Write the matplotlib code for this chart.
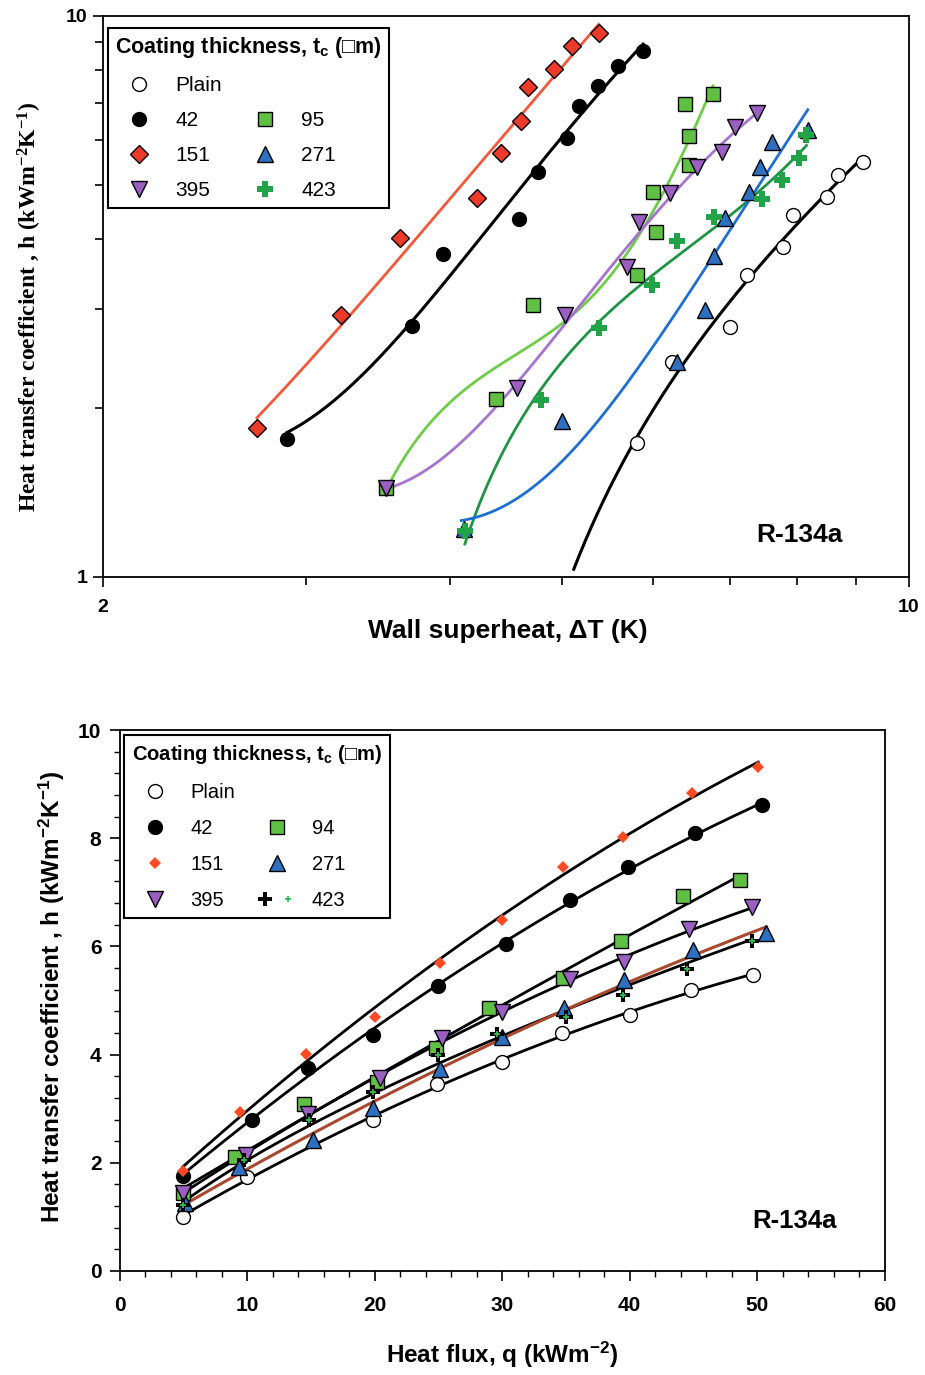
import numpy as np
import matplotlib
matplotlib.use('Agg')
import matplotlib.pyplot as plt
from matplotlib.lines import Line2D
from matplotlib.legend_handler import HandlerTuple
from matplotlib.ticker import FixedLocator, NullFormatter, MultipleLocator

plt.rcParams['font.family'] = ['Liberation Sans', 'DejaVu Sans']
plt.rcParams['mathtext.default'] = 'regular'

# ---------------- top panel: h vs wall superheat (log-log) ----------------
dt_plain = [5.81, 6.23, 7.00, 7.23, 7.78, 7.94, 8.49, 8.67, 9.12]
h_plain = [1.73, 2.42, 2.79, 3.46, 3.88, 4.42, 4.76, 5.21, 5.50]
dt_42 = [2.89, 3.71, 3.94, 4.59, 4.77, 5.05, 5.17, 5.37, 5.59, 5.88]
h_42 = [1.76, 2.80, 3.77, 4.35, 5.28, 6.06, 6.90, 7.49, 8.15, 8.66]
dt_151 = [2.72, 3.22, 3.62, 4.22, 4.43, 4.61, 4.67, 4.92, 5.10, 5.39]
h_151 = [1.84, 2.93, 4.02, 4.73, 5.70, 6.50, 7.47, 8.05, 8.85, 9.33]
dt_95 = [3.52, 4.38, 4.72, 5.81, 6.03, 6.00, 6.44, 6.45, 6.39, 6.76]
h_95 = [1.44, 2.08, 3.06, 3.46, 4.12, 4.86, 5.43, 6.11, 6.96, 7.26]
dt_271 = [4.11, 5.00, 6.29, 6.65, 6.78, 6.93, 7.26, 7.43, 7.60, 8.17]
h_271 = [1.22, 1.90, 2.42, 2.99, 3.74, 4.36, 4.86, 5.39, 5.97, 6.26]
dt_395 = [3.52, 4.57, 5.03, 5.69, 5.83, 6.20, 6.55, 6.89, 7.07, 7.38]
h_395 = [1.44, 2.17, 2.93, 3.57, 4.29, 4.83, 5.39, 5.73, 6.35, 6.71]
dt_423 = [4.12, 4.80, 5.38, 5.98, 6.29, 6.77, 7.45, 7.76, 8.02, 8.14]
h_423 = [1.21, 2.07, 2.78, 3.32, 3.97, 4.39, 4.71, 5.10, 5.58, 6.14]

# polynomial regression order and drawn x-range of each fitted curve
fit_order_top = {'plain': 2, '42': 3, '151': 2, '95': 3, '271': 2, '395': 3, '423': 3}
fit_range_top = {'plain': [5.12, 9.12], '42': [2.89, 5.88], '151': [2.72, 5.38],
                 '95': [3.52, 6.76], '271': [4.09, 8.17], '395': [3.52, 7.38],
                 '423': [4.12, 8.15]}

# ---------------- bottom panel: h vs heat flux ----------------
q_plain = [4.96, 9.98, 19.9, 24.9, 30.0, 34.7, 40.0, 44.8, 49.7]
hq_plain = [1.00, 1.74, 2.79, 3.46, 3.87, 4.40, 4.73, 5.19, 5.48]
q_42 = [4.96, 10.4, 14.8, 19.9, 25.0, 30.3, 35.3, 39.9, 45.1, 50.4]
hq_42 = [1.76, 2.80, 3.76, 4.36, 5.27, 6.04, 6.85, 7.46, 8.09, 8.61]
q_151 = [4.96, 9.45, 14.6, 20.0, 25.1, 30.0, 34.8, 39.5, 44.9, 50.1]
hq_151 = [1.85, 2.94, 4.02, 4.70, 5.69, 6.48, 7.46, 8.03, 8.84, 9.32]
q_94 = [4.96, 9.06, 14.5, 20.2, 24.8, 29.0, 34.8, 39.3, 44.2, 48.7]
hq_94 = [1.44, 2.10, 3.08, 3.50, 4.12, 4.87, 5.41, 6.10, 6.93, 7.23]
q_271 = [5.1, 9.4, 15.2, 19.9, 25.1, 30.0, 34.9, 39.6, 45.0, 50.7]
hq_271 = [1.25, 1.92, 2.42, 3.01, 3.73, 4.33, 4.86, 5.37, 5.93, 6.24]
q_395 = [4.96, 9.9, 14.8, 20.4, 25.3, 30.0, 35.3, 39.6, 44.7, 49.6]
hq_395 = [1.45, 2.14, 2.91, 3.56, 4.31, 4.79, 5.39, 5.72, 6.32, 6.72]
q_423 = [5.0, 9.8, 14.9, 19.9, 25.0, 29.6, 35.0, 39.5, 44.5, 49.6]
hq_423 = [1.22, 2.05, 2.79, 3.31, 3.99, 4.38, 4.70, 5.11, 5.58, 6.10]


def poly_curve(x, y, order, xr=None):
    x = np.asarray(x, float)
    p = np.polyfit(x, np.asarray(y, float), order)
    lo, hi = xr if xr is not None else (x.min(), x.max())
    xx = np.linspace(lo, hi, 200)
    return xx, np.polyval(p, xx)


def power_curve(x, y):
    x = np.asarray(x, float)
    n, c = np.polyfit(np.log(x), np.log(np.asarray(y, float)), 1)
    xx = np.linspace(x.min(), x.max(), 200)
    return xx, np.exp(c) * xx ** n


fig = plt.figure(figsize=(9.25, 13.75), dpi=100)
ax1 = fig.add_axes([103/925, 1-577/1375, 806/925, 561/1375])
ax2 = fig.add_axes([119.5/925, 1-1271/1375, 765/925, 541/1375])

mk = dict(linestyle='none', markeredgecolor='black', markeredgewidth=1.0, zorder=4)

# top panel fitted curves
top_series = [('151', dt_151, h_151, '#f2583a'), ('42', dt_42, h_42, 'black'),
              ('95', dt_95, h_95, '#6fcc4a'), ('395', dt_395, h_395, '#a673cf'),
              ('423', dt_423, h_423, '#1e9444'), ('271', dt_271, h_271, '#1f6fd0'),
              ('plain', dt_plain, h_plain, 'black')]
for key, x, y, c in top_series:
    ax1.plot(*poly_curve(x, y, fit_order_top[key], fit_range_top[key]), color=c,
             lw=2.2 if c == 'black' else 2.0, zorder=2)

ax1.plot(dt_plain, h_plain, marker='o', ms=10, markerfacecolor='white', **mk)
ax1.plot(dt_42, h_42, marker='o', ms=10, markerfacecolor='black', **mk)
ax1.plot(dt_151, h_151, marker='D', ms=9.5, markerfacecolor='#ec3a2b', **mk)
ax1.plot(dt_95, h_95, marker='s', ms=9.5, markerfacecolor='#5fc043', **mk)
ax1.plot(dt_271, h_271, marker='^', ms=11, markerfacecolor='#2f6fbf', **mk)
ax1.plot(dt_395, h_395, marker='v', ms=11, markerfacecolor='#9b5fc2', **mk)
ax1.plot(dt_423, h_423, marker='P', ms=11, linestyle='none', color='#23a347',
         markeredgewidth=0, zorder=4)

ax1.set_xscale('log')
ax1.set_yscale('log')
ax1.set_xlim(2, 10)
ax1.set_ylim(1, 10)
ax1.xaxis.set_major_locator(FixedLocator([2, 10]))
ax1.xaxis.set_minor_locator(FixedLocator([3, 4, 5, 6, 7, 8, 9]))
ax1.yaxis.set_major_locator(FixedLocator([1, 10]))
ax1.yaxis.set_minor_locator(FixedLocator([2, 3, 4, 5, 6, 7, 8, 9]))
ax1.set_xticklabels(['2', '10'])
ax1.set_yticklabels(['1', '10'])
ax1.xaxis.set_minor_formatter(NullFormatter())
ax1.yaxis.set_minor_formatter(NullFormatter())
ax1.tick_params(axis='x', which='major', length=7, width=1.2, pad=9, labelsize=14)
ax1.tick_params(axis='y', which='major', length=7, width=1.2, pad=4, labelsize=14)
ax1.tick_params(which='minor', length=6, width=1.2)
for lab in ax1.get_xticklabels() + ax1.get_yticklabels():
    lab.set_fontweight('bold')

ax1.set_xlabel('Wall superheat, \u0394T (K)', fontsize=19, fontweight='bold')
ax1.xaxis.set_label_coords(0.5025, -0.074)
ax1.set_ylabel('Heat transfer coefficient , h (kWm$^{-2}$K$^{-1}$)', fontsize=17,
               fontweight='bold', family=['Liberation Serif', 'DejaVu Serif'])
ax1.yaxis.set_label_coords(-0.073, 0.481)
ax1.text(0.864, 0.075, 'R-134a', transform=ax1.transAxes, fontsize=19,
         fontweight='bold', ha='center', va='center')

blank = Line2D([], [], linestyle='none', marker='none')
h1 = [Line2D([], [], marker='o', ms=10, markerfacecolor='white', **mk),
      Line2D([], [], marker='o', ms=10, markerfacecolor='black', **mk),
      Line2D([], [], marker='D', ms=9.5, markerfacecolor='#ec3a2b', **mk),
      Line2D([], [], marker='v', ms=11, markerfacecolor='#9b5fc2', **mk),
      blank,
      Line2D([], [], marker='s', ms=9.5, markerfacecolor='#5fc043', **mk),
      Line2D([], [], marker='^', ms=11, markerfacecolor='#2f6fbf', **mk),
      Line2D([], [], marker='P', ms=11, linestyle='none', color='#23a347', markeredgewidth=0)]
l1 = ['Plain', '42', '151', '395', '', '95', '271', '423']
leg1 = ax1.legend(h1, l1, ncol=2, loc='upper left', bbox_to_anchor=(0.006, 0.979),
                  borderaxespad=0, fontsize=15, title='Coating thickness, t$_c$ (\u25a1m)',
                  title_fontproperties={'weight': 'bold', 'size': 15.5},
                  alignment='left', frameon=True, fancybox=False, framealpha=1,
                  edgecolor='black', handlelength=2.3, handletextpad=0.6,
                  columnspacing=0.9, labelspacing=0.77, borderpad=0.35)
leg1.get_frame().set_linewidth(1.5)

# bottom panel fitted curves
for q, h in [(q_151, hq_151), (q_42, hq_42), (q_94, hq_94), (q_395, hq_395),
             (q_plain, hq_plain)]:
    ax2.plot(*poly_curve(q, h, 2), color='black', lw=2.0, zorder=2)
ax2.plot(*power_curve(q_423, hq_423), color='black', lw=2.0, zorder=2)
ax2.plot(*poly_curve(q_271, hq_271, 2), color='#a8482e', lw=2.2, zorder=2)

ax2.plot(q_plain, hq_plain, marker='o', ms=10, markerfacecolor='white', **mk)
ax2.plot(q_42, hq_42, marker='o', ms=10, markerfacecolor='black', **mk)
ax2.plot(q_151, hq_151, marker='D', ms=6.5, linestyle='none', color='#ff4a26',
         markeredgewidth=0, zorder=4)
ax2.plot(q_94, hq_94, marker='s', ms=9.5, markerfacecolor='#5fc043', **mk)
ax2.plot(q_271, hq_271, marker='^', ms=11, markerfacecolor='#2f6fbf', **mk)
ax2.plot(q_395, hq_395, marker='v', ms=11, markerfacecolor='#9b5fc2', **mk)
ax2.plot(q_423, hq_423, marker='P', ms=10.5, linestyle='none', color='black',
         markeredgewidth=0, zorder=4)
ax2.plot(q_423, hq_423, marker='+', ms=5, linestyle='none', color='#2fbf4f',
         markeredgewidth=1.3, zorder=5)

ax2.set_xlim(0, 60)
ax2.set_ylim(0, 10)
ax2.xaxis.set_major_locator(MultipleLocator(10))
ax2.xaxis.set_minor_locator(MultipleLocator(2))
ax2.yaxis.set_major_locator(MultipleLocator(2))
ax2.yaxis.set_minor_locator(MultipleLocator(0.4))
ax2.tick_params(which='major', length=7, width=1.2, labelsize=15)
ax2.tick_params(which='minor', length=4, width=1.0)
ax2.tick_params(axis='x', which='major', pad=11)
ax2.tick_params(axis='y', which='major', pad=6)
for lab in ax2.get_xticklabels():
    lab.set_fontweight('bold')
    lab.set_family(['Liberation Sans Narrow', 'Liberation Sans'])
for lab in ax2.get_yticklabels():
    lab.set_fontweight('bold')

ax2.set_xlabel('Heat flux, q (kWm$^{-2}$)', fontsize=17.5, fontweight='bold',
               family=['Liberation Sans Narrow', 'Liberation Sans'])
ax2.xaxis.set_label_coords(0.5, -0.127)
ax2.set_ylabel('Heat transfer coefficient , h (kWm$^{-2}$K$^{-1}$)', fontsize=17.5,
               fontweight='bold')
ax2.yaxis.set_label_coords(-0.068, 0.506)
ax2.text(0.882, 0.092, 'R-134a', transform=ax2.transAxes, fontsize=18.5,
         fontweight='bold', ha='center', va='center')

h2 = [Line2D([], [], marker='o', ms=10, markerfacecolor='white', **mk),
      Line2D([], [], marker='o', ms=10, markerfacecolor='black', **mk),
      Line2D([], [], marker='D', ms=6.5, linestyle='none', color='#ff4a26', markeredgewidth=0),
      Line2D([], [], marker='v', ms=11, markerfacecolor='#9b5fc2', **mk),
      blank,
      Line2D([], [], marker='s', ms=9.5, markerfacecolor='#5fc043', **mk),
      Line2D([], [], marker='^', ms=11, markerfacecolor='#2f6fbf', **mk),
      (Line2D([], [], marker='P', ms=10.5, linestyle='none', color='black', markeredgewidth=0),
       Line2D([], [], marker='+', ms=5, linestyle='none', color='#2fbf4f', markeredgewidth=1.3))]
l2 = ['Plain', '42', '151', '395', '', '94', '271', '423']
leg2 = ax2.legend(h2, l2, ncol=2, loc='upper left', bbox_to_anchor=(0.006, 0.991),
                  borderaxespad=0, fontsize=14.5, title='Coating thickness, t$_c$ (\u25a1m)',
                  title_fontproperties={'weight': 'bold', 'size': 14.5},
                  alignment='left', frameon=True, fancybox=False, framealpha=1,
                  edgecolor='black', handlelength=2.3, handletextpad=0.6,
                  columnspacing=0.9, labelspacing=0.85, borderpad=0.4,
                  handler_map={tuple: HandlerTuple(ndivide=None, pad=0)})
leg2.get_frame().set_linewidth(1.5)

for ax in (ax1, ax2):
    for s in ax.spines.values():
        s.set_linewidth(1.3)

fig.savefig('out.png', dpi=100)
